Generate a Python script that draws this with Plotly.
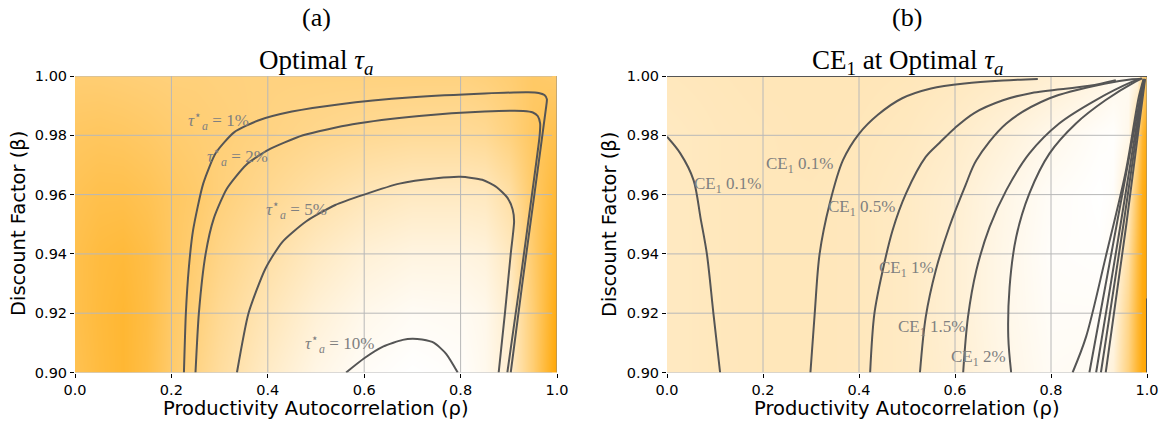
import plotly.graph_objects as go

# ---------------- data ----------------
x_ticks = [0.0, 0.2, 0.4, 0.6, 0.8, 1.0]
y_ticks = [0.90, 0.92, 0.94, 0.96, 0.98, 1.00]

# Panel (a) background shading (0 = orange, 1 = white)
shade_a_x = [0.0, 0.05, 0.1, 0.15, 0.2, 0.25, 0.3, 0.4, 0.5, 0.6, 0.7, 0.8, 0.85, 0.9, 0.95, 1.0]
shade_a_y = [0.90, 0.92, 0.94, 0.96, 0.98, 1.00]
shade_a_z = [
    [0.32, 0.25, 0.20, 0.28, 0.42, 0.52, 0.62, 0.78, 0.90, 0.97, 1.00, 0.98, 0.93, 0.82, 0.45, 0.00],
    [0.30, 0.24, 0.20, 0.27, 0.40, 0.48, 0.58, 0.72, 0.84, 0.92, 0.96, 0.95, 0.92, 0.80, 0.45, 0.05],
    [0.30, 0.25, 0.23, 0.28, 0.38, 0.45, 0.53, 0.65, 0.76, 0.84, 0.88, 0.88, 0.86, 0.75, 0.42, 0.12],
    [0.33, 0.30, 0.30, 0.33, 0.38, 0.42, 0.48, 0.57, 0.65, 0.72, 0.76, 0.76, 0.75, 0.65, 0.40, 0.20],
    [0.38, 0.37, 0.38, 0.40, 0.43, 0.45, 0.47, 0.51, 0.55, 0.58, 0.60, 0.60, 0.58, 0.50, 0.38, 0.30],
    [0.45, 0.45, 0.46, 0.47, 0.48, 0.48, 0.49, 0.50, 0.50, 0.50, 0.50, 0.50, 0.48, 0.45, 0.40, 0.42],
]

# Panel (b) background shading
shade_b_x = [0.0, 0.1, 0.2, 0.3, 0.4, 0.5, 0.6, 0.7, 0.8, 0.9, 0.93, 0.96, 0.98, 0.99, 1.0]
shade_b_y = [0.90, 0.92, 0.94, 0.96, 0.98, 1.00]
shade_b_z = [
    [0.76, 0.74, 0.73, 0.73, 0.74, 0.77, 0.82, 0.90, 0.96, 0.95, 0.85, 0.50, 0.20, 0.05, 0.0],
    [0.76, 0.74, 0.73, 0.73, 0.74, 0.77, 0.83, 0.91, 0.97, 0.97, 0.90, 0.55, 0.22, 0.06, 0.0],
    [0.76, 0.74, 0.73, 0.73, 0.74, 0.77, 0.83, 0.91, 0.98, 0.99, 0.95, 0.65, 0.27, 0.08, 0.0],
    [0.76, 0.74, 0.73, 0.73, 0.74, 0.77, 0.82, 0.90, 0.97, 1.00, 0.98, 0.78, 0.35, 0.10, 0.0],
    [0.76, 0.74, 0.73, 0.72, 0.73, 0.75, 0.79, 0.85, 0.92, 0.98, 0.99, 0.92, 0.55, 0.20, 0.02],
    [0.74, 0.73, 0.72, 0.72, 0.72, 0.73, 0.75, 0.78, 0.82, 0.88, 0.92, 0.95, 0.90, 0.55, 0.30],
]

# Panel (a) contour lines: optimal tau_a
tau1_x = [0.226, 0.230, 0.236, 0.245, 0.266, 0.292, 0.330, 0.380, 0.450, 0.550, 0.700, 0.850, 0.940,
          0.962, 0.974, 0.979, 0.977, 0.953, 0.928, 0.904]
tau1_y = [0.900, 0.920, 0.935, 0.948, 0.9637, 0.974, 0.981, 0.985, 0.988, 0.9905, 0.9928, 0.9941, 0.9945,
          0.9943, 0.9936, 0.9922, 0.989, 0.960, 0.930, 0.900]
tau2_x = [0.250, 0.257, 0.271, 0.288, 0.315, 0.355, 0.400, 0.473, 0.576, 0.714, 0.850, 0.930,
          0.950, 0.960, 0.965, 0.964, 0.948, 0.923, 0.897]
tau2_y = [0.900, 0.920, 0.940, 0.952, 0.962, 0.970, 0.975, 0.980, 0.9837, 0.9865, 0.988, 0.9882,
          0.9877, 0.9865, 0.984, 0.980, 0.960, 0.930, 0.900]
tau5_x = [0.336, 0.360, 0.395, 0.430, 0.480, 0.540, 0.600, 0.673, 0.750, 0.800, 0.845, 0.875,
          0.897, 0.908, 0.911, 0.904, 0.892, 0.879]
tau5_y = [0.900, 0.920, 0.935, 0.944, 0.951, 0.9565, 0.960, 0.9637, 0.9655, 0.966, 0.9650, 0.9625,
          0.959, 0.955, 0.9510, 0.940, 0.920, 0.900]
tau10_x = [0.5625, 0.600, 0.640, 0.680, 0.700, 0.720, 0.745, 0.770, 0.794]
tau10_y = [0.900, 0.9048, 0.9088, 0.9110, 0.9114, 0.9111, 0.9100, 0.9063, 0.900]

tau_label_text = ["<i>τ</i><sup>⋆</sup><sub><i>a</i></sub> = 1%", "<i>τ</i><sup>⋆</sup><sub><i>a</i></sub> = 2%",
                  "<i>τ</i><sup>⋆</sup><sub><i>a</i></sub> = 5%", "<i>τ</i><sup>⋆</sup><sub><i>a</i></sub> = 10%"]
tau_label_x = [0.297, 0.338, 0.459, 0.548]
tau_label_y = [0.9851, 0.973, 0.955, 0.9098]

# Panel (b) contour lines: CE1 at optimal tau_a
ceA_x = [0.0, 0.0277, 0.0553, 0.070, 0.083, 0.0968, 0.1106]
ceA_y = [0.9795, 0.9739, 0.9649, 0.952, 0.9401, 0.9198, 0.900]
ceB_x = [0.2988, 0.3077, 0.318, 0.339, 0.3666, 0.400, 0.440, 0.490, 0.550, 0.620, 0.700, 0.7725]
ceB_y = [0.900, 0.9198, 0.9401, 0.957, 0.9716, 0.9805, 0.987, 0.9925, 0.9958, 0.9975, 0.9985, 0.999]
ceC_x = [0.4232, 0.432, 0.4495, 0.470, 0.498, 0.539, 0.568, 0.600, 0.640, 0.700, 0.760, 0.880, 0.935]
ceC_y = [0.900, 0.9198, 0.9345, 0.948, 0.9604, 0.9727, 0.9775, 0.9825, 0.9875, 0.9918, 0.9943, 0.9967, 0.9986]
ceD_x = [0.527, 0.539, 0.560, 0.588, 0.622, 0.6445, 0.707, 0.797, 0.914, 0.969, 0.985]
ceD_y = [0.900, 0.9187, 0.9345, 0.949, 0.9632, 0.9716, 0.984, 0.9925, 0.9975, 0.9989, 0.999]
ceE_x = [0.617, 0.627, 0.6445, 0.672, 0.707, 0.755, 0.817, 0.8935, 0.9695, 0.988]
ceE_y = [0.900, 0.9187, 0.9345, 0.949, 0.9615, 0.9739, 0.984, 0.9919, 0.9981, 0.9992]
ceF_x = [0.717, 0.711, 0.7137, 0.7275, 0.755, 0.797, 0.852, 0.914, 0.976, 0.990]
ceF_y = [0.900, 0.912, 0.9288, 0.9457, 0.9604, 0.9739, 0.984, 0.9919, 0.9981, 0.9992]
ceG_x = [0.845, 0.873, 0.914, 0.956, 0.983, 0.993]
ceG_y = [0.900, 0.912, 0.939, 0.968, 0.993, 0.999]
ceH_x = [0.880, 0.937, 0.993]
ceH_y = [0.900, 0.950, 0.999]
ceI_x = [0.894, 0.945, 0.994]
ceI_y = [0.900, 0.950, 0.999]
ceJ_x = [0.904, 0.951, 0.995]
ceJ_y = [0.900, 0.950, 0.999]
ceK_x = [0.914, 0.957, 0.996]
ceK_y = [0.900, 0.950, 0.999]
ceEdge_x = [1.0, 1.0]
ceEdge_y = [0.900, 0.925]
ceTop_x = [0.0, 1.0]
ceTop_y = [1.0, 1.0]

ce_label_text = ["CE<sub>1</sub> 0.1%", "CE<sub>1</sub> 0.1%", "CE<sub>1</sub> 0.5%",
                 "CE<sub>1</sub> 1%", "CE<sub>1</sub> 1.5%", "CE<sub>1</sub> 2%"]
ce_label_x = [0.127, 0.277, 0.406, 0.498, 0.550, 0.648]
ce_label_y = [0.9632, 0.970, 0.9554, 0.935, 0.915, 0.905]

# ---------------- styling ----------------
W, H = 1166, 421
LINE = "#555555"
GRID = "#b8b8b8"
LABEL = "#808080"
SERIF = "Liberation Serif"
SANS = "DejaVu Sans"
cscale = [[0.0, "#FFA500"], [1.0, "#FFFFFF"]]

dom_a = [75 / W, 557 / W]
dom_b = [667 / W, 1147 / W]
dom_y = [(H - 372.5) / H, (H - 76) / H]

fig = go.Figure()

def add_panel(xa, ya, sx, sy, sz, curves, labels, smooth):
    fig.add_trace(go.Heatmap(x=sx, y=sy, z=sz, colorscale=cscale, zmin=0, zmax=1,
                             zsmooth="best", showscale=False, hoverinfo="skip",
                             xaxis=xa, yaxis=ya))
    for v in x_ticks[1:-1]:
        fig.add_trace(go.Scatter(x=[v, v], y=[y_ticks[0], y_ticks[-1]], mode="lines",
                                 line=dict(color=GRID, width=1), xaxis=xa, yaxis=ya,
                                 showlegend=False, hoverinfo="skip"))
    for v in y_ticks:
        fig.add_trace(go.Scatter(x=[x_ticks[0], 0.99], y=[v, v], mode="lines",
                                 line=dict(color=GRID, width=1), xaxis=xa, yaxis=ya,
                                 showlegend=False, hoverinfo="skip"))
    # thin edge line at rho = 1
    fig.add_trace(go.Scatter(x=[x_ticks[-1], x_ticks[-1]], y=[y_ticks[0], y_ticks[-1]], mode="lines",
                             line=dict(color="#888888", width=1), xaxis=xa, yaxis=ya,
                             showlegend=False, hoverinfo="skip"))
    for cx, cy in curves:
        fig.add_trace(go.Scatter(x=cx, y=cy, mode="lines",
                                 line=dict(color=LINE, width=2, shape="spline", smoothing=smooth),
                                 xaxis=xa, yaxis=ya, showlegend=False, hoverinfo="skip"))
    for t, lx, ly in zip(*labels):
        fig.add_annotation(x=lx, y=ly, xref=xa, yref=ya, text=t, showarrow=False,
                           font=dict(family=SERIF, size=17, color=LABEL))

add_panel("x", "y", shade_a_x, shade_a_y, shade_a_z,
          [(tau1_x, tau1_y), (tau2_x, tau2_y), (tau5_x, tau5_y), (tau10_x, tau10_y)],
          (tau_label_text, tau_label_x, tau_label_y), 0.6)

add_panel("x2", "y2", shade_b_x, shade_b_y, shade_b_z,
          [(ceA_x, ceA_y), (ceB_x, ceB_y), (ceC_x, ceC_y), (ceD_x, ceD_y), (ceE_x, ceE_y),
           (ceF_x, ceF_y), (ceG_x, ceG_y), (ceH_x, ceH_y), (ceI_x, ceI_y), (ceJ_x, ceJ_y),
           (ceK_x, ceK_y), (ceEdge_x, ceEdge_y), (ceTop_x, ceTop_y)],
          (ce_label_text, ce_label_x, ce_label_y), 0.9)

axis_common = dict(range=[0, 1], tickvals=x_ticks, tickformat=".1f", showgrid=False,
                   zeroline=False, showline=False, ticks="outside", ticklen=4, automargin=False,
                   tickcolor="black", tickfont=dict(family=SANS, size=14.5, color="black"))
yaxis_common = dict(range=[0.9, 1.0], tickvals=y_ticks, tickformat=".2f", showgrid=False,
                    zeroline=False, showline=False, ticks="outside", ticklen=4, automargin=False,
                    tickcolor="black", tickfont=dict(family=SANS, size=14.5, color="black"))

fig.update_layout(
    width=W, height=H, margin=dict(l=0, r=0, t=0, b=0, autoexpand=False),
    paper_bgcolor="white", plot_bgcolor="white", showlegend=False,
    xaxis=dict(domain=dom_a, anchor="y", **axis_common),
    yaxis=dict(domain=dom_y, anchor="x", **yaxis_common),
    xaxis2=dict(domain=dom_b, anchor="y2", **axis_common),
    yaxis2=dict(domain=dom_y, anchor="x2", **yaxis_common),
)

def ann(text, xp, yp, size, family, angle=0):
    fig.add_annotation(x=xp / W, y=(H - yp) / H, xref="paper", yref="paper", text=text,
                       showarrow=False, textangle=angle, xanchor="center", yanchor="middle",
                       font=dict(family=family, size=size, color="black"))

ca = (75 + 557) / 2
cb = (667 + 1147) / 2
ann("(a)", ca, 17, 26, SERIF)
ann("(b)", cb, 17, 26, SERIF)
ann("Optimal <i>τ</i><sub><i>a</i></sub>", ca, 62, 27, SERIF)
ann("CE<sub>1</sub> at Optimal <i>τ</i><sub><i>a</i></sub>", cb, 62, 27, SERIF)
ann("Productivity Autocorrelation (ρ)", ca, 408, 19.5, SANS)
ann("Productivity Autocorrelation (ρ)", cb, 408, 19.5, SANS)
ann("Discount Factor (β)", 18, 224, 19.5, SANS, -90)
ann("Discount Factor (β)", 609, 224, 19.5, SANS, -90)

fig.write_html("out.html", config={"displayModeBar": False},
               post_script="document.body.style.margin='0';document.body.style.padding='0';"
                           "document.body.style.overflow='hidden';")
